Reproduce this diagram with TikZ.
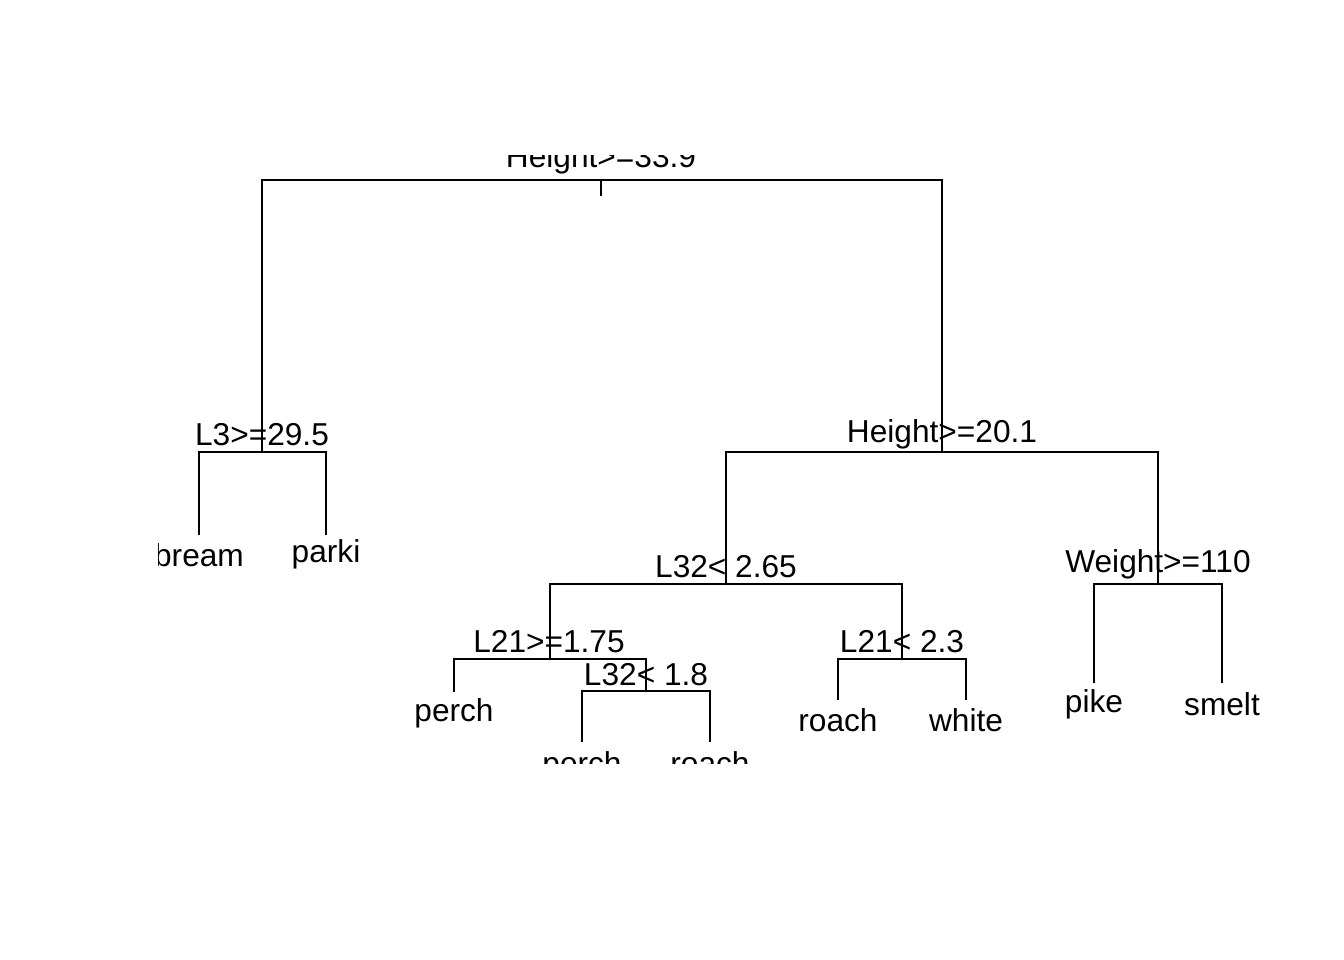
\documentclass[tikz,border=0pt]{standalone}
\usepackage{fontspec}
\setmainfont{Liberation Sans}
\usepackage{tikz}

\begin{document}
\begin{tikzpicture}[
  x=0.01cm, y=-0.01cm,
  font=\fontsize{9}{10.8}\selectfont,
  branch/.style={line width=0.55pt},
  split/.style={anchor=base,inner sep=0pt},
  leaf/.style={anchor=base,inner sep=0pt},
]
\useasboundingbox (0,0) rectangle (1344,960);
\begin{scope}
\clip (158,155) rectangle (1264,763);
% split points
\coordinate (n1) at (601,180);
\coordinate (n1stem) at (601,196);
\coordinate (n2) at (262,452);
\coordinate (n3) at (942,452);
\coordinate (n4) at (726,584);
\coordinate (n5) at (1158,584);
\coordinate (n6) at (550,659);
\coordinate (n7) at (902,659);
\coordinate (n8) at (646,691);
% leaf ends
\coordinate (bream) at (199,535);
\coordinate (parki) at (326,535);
\coordinate (perchA) at (454,692);
\coordinate (perchB) at (582,742);
\coordinate (roachA) at (710,742);
\coordinate (roachB) at (838,700);
\coordinate (white) at (966,700);
\coordinate (pike) at (1094,683);
\coordinate (smelt) at (1222,683);
% branches
\draw[branch] (n1) -- (n1stem);
\draw[branch] (n2) |- (n1) -| (n3);
\draw[branch] (bream) |- (n2) -| (parki);
\draw[branch] (n4) |- (n3) -| (n5);
\draw[branch] (n6) |- (n4) -| (n7);
\draw[branch] (perchA) |- (n6) -| (n8);
\draw[branch] (perchB) |- (n8) -| (roachA);
\draw[branch] (roachB) |- (n7) -| (white);
\draw[branch] (pike) |- (n5) -| (smelt);
% split labels
\node[split] (n1lbl) at (601,167) {Height>=33.9};
\node[split] (n2lbl) at (262,445) {L3>=29.5};
\node[split] (n3lbl) at (942,442) {Height>=20.1};
\node[split] (n4lbl) at (726,577) {L32< 2.65};
\node[split] (n5lbl) at (1158,572) {Weight>=110};
\node[split] (n6lbl) at (549,652) {L21>=1.75};
\node[split] (n7lbl) at (902,652) {L21< 2.3};
\node[split] (n8lbl) at (646,685) {L32< 1.8};
% leaf labels
\node[leaf] (breamlbl) at (199,566) {bream};
\node[leaf] (parkilbl) at (326,562) {parki};
\node[leaf] (perchAlbl) at (454,721) {perch};
\node[leaf] (perchBlbl) at (582,774) {perch};
\node[leaf] (roachAlbl) at (710,774) {roach};
\node[leaf] (roachBlbl) at (838,731) {roach};
\node[leaf] (whitelbl) at (966,731) {white};
\node[leaf] (pikelbl) at (1094,712) {pike};
\node[leaf] (smeltlbl) at (1222,715) {smelt};
\end{scope}
\end{tikzpicture}
\end{document}
